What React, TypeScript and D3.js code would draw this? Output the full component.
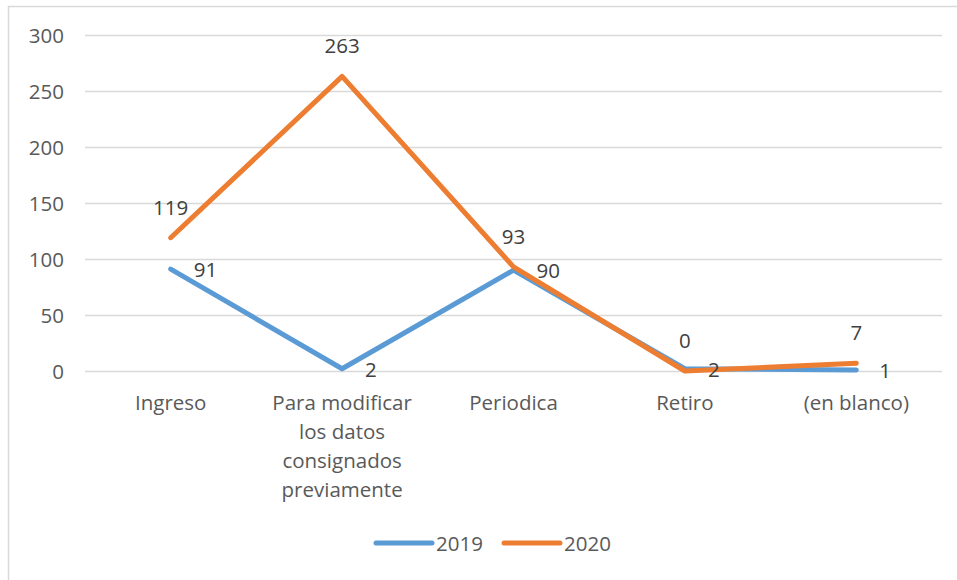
import React from "react";
import * as d3 from "d3";

const categories: string[][] = [
  ["Ingreso"],
  ["Para modificar", "los datos", "consignados", "previamente"],
  ["Periodica"],
  ["Retiro"],
  ["(en blanco)"],
];
const categoryKeys = ["Ingreso", "Para modificar", "Periodica", "Retiro", "(en blanco)"];
const series2019 = [91, 2, 90, 2, 1];
const series2020 = [119, 263, 93, 0, 7];
const yTicks = [0, 50, 100, 150, 200, 250, 300];
const seriesNames = ["2019", "2020"];

const W = 957;
const H = 580;
const FONT = "'Open Sans', 'Liberation Sans', sans-serif";
const TEXT = "#595959";
const BLUE = "#5B9BD5";
const ORANGE = "#ED7D31";
const GRID = "#d9d9d9";

export default function App() {
  const x = d3.scaleBand<string>().domain(categoryKeys).range([85, 942]);
  const y = d3.scaleLinear().domain([0, 300]).range([371, 35]);
  const cx = (i: number) => (x(categoryKeys[i]) as number) + x.bandwidth() / 2;
  const line = d3
    .line<number>()
    .x((_, i) => cx(i))
    .y((d) => y(d));

  return (
    <svg
      width={W}
      height={H}
      style={{ position: "absolute", left: 0, top: 0, display: "block" }}
      fontFamily={FONT}
    >
      <rect x={8.5} y={6.5} width={980} height={620} fill="#fff" stroke={GRID} strokeWidth={1.5} />
      {yTicks.map((t) => (
        <g key={t}>
          <line x1={85} x2={942} y1={Math.round(y(t)) + 0.5} y2={Math.round(y(t)) + 0.5} stroke={GRID} strokeWidth={1.5} />
          <text x={64} y={y(t)} textAnchor="end" dominantBaseline="central" fontSize={20.5} fill={TEXT}>
            {t}
          </text>
        </g>
      ))}
      {categories.map((lines, i) => (
        <text key={i} textAnchor="middle" fontSize={20.5} fill={TEXT}>
          {lines.map((l, j) => (
            <tspan key={j} x={cx(i)} y={410 + j * 29}>
              {l}
            </tspan>
          ))}
        </text>
      ))}
      <path d={line(series2019) || ""} fill="none" stroke={BLUE} strokeWidth={5} strokeLinecap="round" strokeLinejoin="round" />
      <path d={line(series2020) || ""} fill="none" stroke={ORANGE} strokeWidth={5} strokeLinecap="round" strokeLinejoin="round" />
      {series2019.map((v, i) => (
        <text key={"a" + i} x={cx(i) + 23} y={y(v)} dominantBaseline="central" fontSize={20.5} fill="#404040">
          {v}
        </text>
      ))}
      {series2020.map((v, i) => (
        <text key={"b" + i} x={cx(i)} y={y(v) - 31} textAnchor="middle" dominantBaseline="central" fontSize={20.5} fill="#404040">
          {v}
        </text>
      ))}
      {seriesNames.map((n, i) => {
        const lx = 376 + i * 128;
        return (
          <g key={n}>
            <line x1={lx} x2={lx + 56} y1={543} y2={543} stroke={i === 0 ? BLUE : ORANGE} strokeWidth={5} strokeLinecap="round" />
            <text x={lx + 60} y={543} dominantBaseline="central" fontSize={20.5} fill={TEXT}>
              {n}
            </text>
          </g>
        );
      })}
    </svg>
  );
}
